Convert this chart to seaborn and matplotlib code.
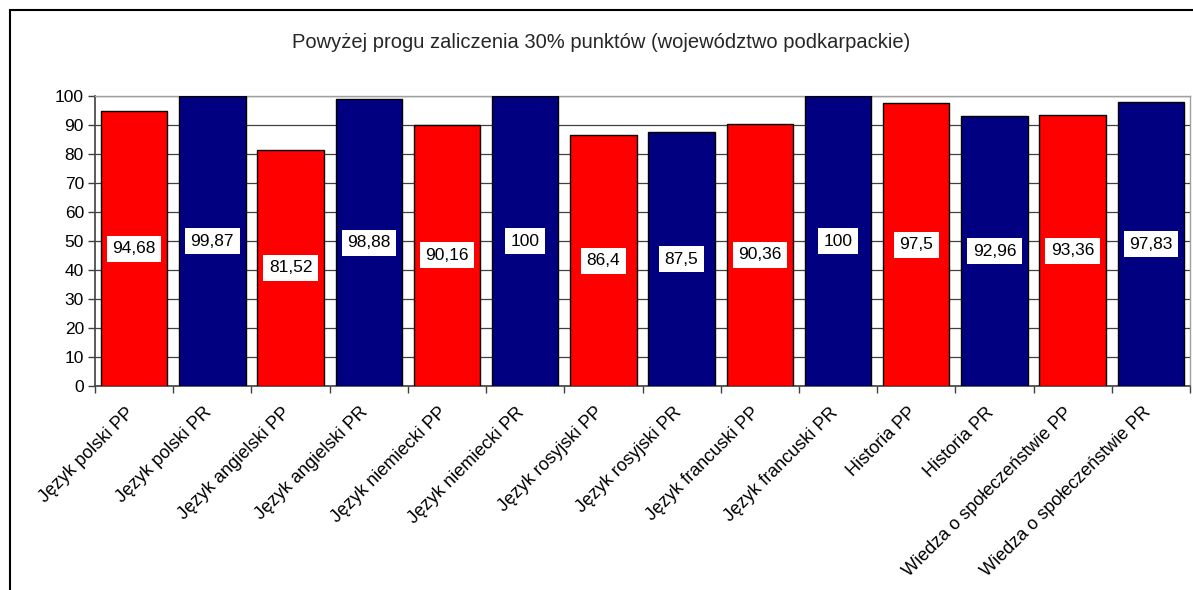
import matplotlib
matplotlib.use("Agg")
import matplotlib.pyplot as plt
import matplotlib.transforms as mtransforms
import seaborn as sns
import pandas as pd
from matplotlib.patches import Rectangle
from matplotlib.ticker import MultipleLocator, FixedLocator

categories = ["Język polski PP", "Język polski PR", "Język angielski PP", "Język angielski PR",
              "Język niemiecki PP", "Język niemiecki PR", "Język rosyjski PP", "Język rosyjski PR",
              "Język francuski PP", "Język francuski PR", "Historia PP", "Historia PR",
              "Wiedza o społeczeństwie PP", "Wiedza o społeczeństwie PR"]
values = [94.68, 99.87, 81.52, 98.88, 90.16, 100, 86.4, 87.5, 90.36, 100, 97.5, 92.96, 93.36, 97.83]
value_labels = ["94,68", "99,87", "81,52", "98,88", "90,16", "100", "86,4", "87,5",
                "90,36", "100", "97,5", "92,96", "93,36", "97,83"]
bar_colors = ["#FF0000", "#000080"] * 7
title = "Powyżej progu zaliczenia 30% punktów (województwo podkarpackie)"

sns.set_theme(style="white")
plt.rcParams['font.family'] = ['Liberation Sans', 'DejaVu Sans']

df = pd.DataFrame({"cat": categories, "val": values})
fig = plt.figure(figsize=(11.93, 5.9), dpi=100)
ax = fig.add_axes([95/1193, 1-386/590, (1190-95)/1193, (386-96)/590])

sns.barplot(data=df, x="cat", y="val", hue="cat", palette=bar_colors, legend=False,
            width=0.85, edgecolor="black", linewidth=1, saturation=1, ax=ax, zorder=3)

ax.set_ylim(0, 100)
ax.set_xlim(-0.5, len(categories) - 0.5)
ax.yaxis.set_major_locator(MultipleLocator(10))
ax.grid(axis="y", color="#404040", linewidth=0.9, zorder=0)
ax.set_axisbelow(True)
ax.set_xlabel("")
ax.set_ylabel("")

for s in ["top", "right"]:
    ax.spines[s].set_color("#A0A0A0")
    ax.spines[s].set_linewidth(1)
for s in ["left", "bottom"]:
    ax.spines[s].set_color("#404040")
    ax.spines[s].set_linewidth(1.2)

ax.tick_params(axis="y", which="major", left=True, length=5, width=1, color="#404040",
               labelsize=12.5, labelcolor="black", pad=3)
ax.tick_params(axis="x", which="major", bottom=False, labelsize=13, labelcolor="black", pad=7)
ax.xaxis.set_minor_locator(FixedLocator([i + 0.5 for i in range(-1, len(categories))]))
ax.tick_params(axis="x", which="minor", bottom=True, length=5, width=1, color="#404040")
ax.set_xticks(range(len(categories)))
ax.set_xticklabels(categories, rotation=45, ha="right", rotation_mode="anchor")
offset = mtransforms.ScaledTranslation(-9/100, 0, fig.dpi_scale_trans)
for lbl in ax.get_xticklabels():
    lbl.set_transform(lbl.get_transform() + offset)

for i, (v, lab) in enumerate(zip(values, value_labels)):
    ax.text(i, v / 2, lab, ha="center", va="center", fontsize=12.5, color="black", zorder=5,
            bbox=dict(boxstyle="square,pad=0.32", facecolor="white", edgecolor="none"))

fig.text(0.5 + 10/1193/2, 1 - 42/590, title, ha="center", va="center", fontsize=14.5)

fig.patches.append(Rectangle((10/1193, -0.1), 1.2, 1 - 10/590 + 0.1, transform=fig.transFigure,
                             fill=False, edgecolor="black", linewidth=1.5))

fig.savefig("out.png", dpi=100, facecolor="white")
